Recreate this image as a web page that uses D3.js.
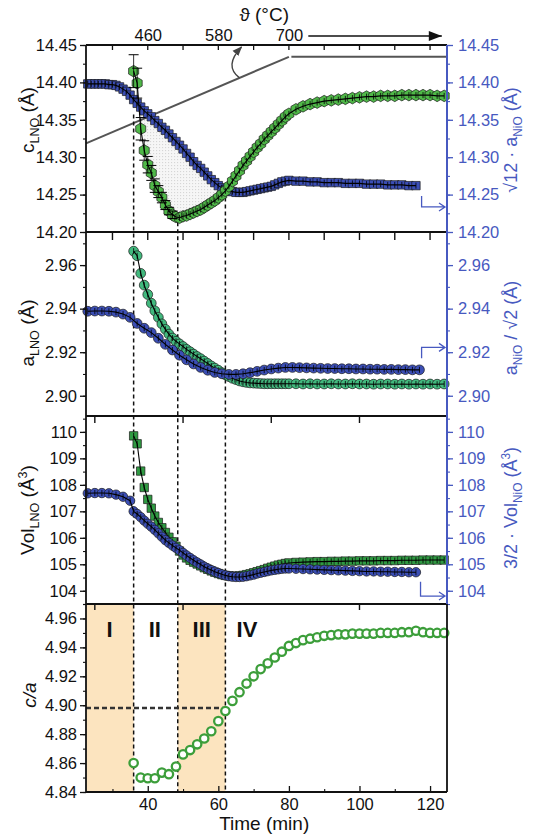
<!DOCTYPE html>
<html><head><meta charset="utf-8">
<script src="https://cdn.jsdelivr.net/npm/d3@7"></script>
<style>
body{margin:0;background:#fff;}
svg{display:block;font-family:"Liberation Sans",Arial,sans-serif;}
</style></head><body>
<svg id="c" width="558" height="835"></svg>
<script>
// ---------------- DATA ----------------
const timeBlue1 = [23,24,25,26,27,28,29,30,31,32,33,34,35,36,37,38,39,40,41,42,43,44,45,46,47,48,49,50,51,52,53,54,55,56,57,58,59,60,61,62,63,64,65,66,67,68,69,70,71,72,73,74,75,76,77,78,79,80,
  82,84,86,88,90,92,94,96,98,100,102,104,106,108,110,112,114,116];
const cNiO = [14.398,14.398,14.398,14.398,14.398,14.398,14.397,
  14.397,14.396,14.394,14.391,14.388,14.383,
  14.377,14.372,14.367,14.362,14.358,14.354,14.349,14.345,14.340,14.336,
  14.331,14.326,14.321,14.316,14.311,14.305,14.300,14.294,14.289,14.285,
  14.280,14.275,14.270,14.266,14.262,14.259,14.257,14.255,14.254,14.253,
  14.253,14.253,14.254,14.255,14.256,14.257,14.258,14.259,14.260,14.261,
  14.263,14.265,14.267,14.268,14.269,
  14.268,14.268,14.267,14.267,14.266,14.266,14.266,14.265,14.265,14.265,14.264,14.264,14.264,14.263,14.263,14.263,14.262,14.262];

const timeGreen = [36,37,38,39,40,41,42,43,44,45,46,47,48,49,50,51,52,53,54,55,56,57,58,59,60,61,62,63,64,65,66,67,68,69,70,71,72,73,74,75,76,77,78,79,80,
  82,84,86,88,90,92,94,96,98,100,102,104,106,108,110,112,114,116,118,120,122,124];
const cLNO = [14.415,14.399,14.338,14.309,14.290,14.279,14.262,14.254,14.246,14.236,
  14.228,14.223,14.220,14.219,14.221,14.222,14.224,14.226,14.228,14.230,
  14.233,14.236,14.239,14.242,14.246,14.250,14.255,14.261,14.268,14.275,
  14.282,14.289,14.295,14.301,14.307,14.313,14.318,14.324,14.329,14.334,
  14.339,14.344,14.349,14.354,14.358,
  14.364,14.368,14.371,14.373,14.375,14.376,14.377,14.378,14.379,14.380,14.381,14.381,14.382,14.382,14.382,14.383,14.383,14.383,14.383,14.383,14.382,14.382];
const cLNOerr = [0.022,0.020,0.015,0.013,0.011,0.010,0.009,0.008,0.007,0.006,
  0.005,0.005,0.004,0.004,0.004,0.003,0.003,0.003,0.003,0.003,
  0.003,0.003,0.003,0.003,0.003,0.003,0.003,0.003,0.003,0.003,
  0.003,0.003,0.003,0.003,0.003,0.003,0.003,0.003,0.003,0.003,
  0.003,0.003,0.003,0.003,0.003,
  0.003,0.003,0.003,0.003,0.003,0.003,0.003,0.003,0.003,0.003,0.003,0.003,0.003,0.003,0.003,0.003,0.003,0.003,0.003,0.003,0.003,0.003];

const timeBlue2 = [23,25,27,29,31,33,35,37,39,41,43,45,47,49,51,53,55,57,59,61,63,65,67,69,71,73,75,77,79,81,83,85,87,89,91,93,95,97,99,101,103,105,107,109,111,113,115,117];
const aNiO = [2.9388,2.9389,2.9389,2.9388,2.9384,2.9375,2.9360,2.9332,2.9310,2.9290,
  2.9264,2.9236,2.9210,2.9186,2.9165,2.9146,2.9130,2.9117,2.9107,2.9101,
  2.9098,2.9098,2.9101,2.9106,2.9112,2.9118,2.9123,2.9127,2.9130,2.9130,
  2.9129,2.9128,2.9127,2.9126,2.9125,2.9125,2.9124,2.9124,2.9123,2.9123,
  2.9122,2.9122,2.9121,2.9121,2.9120,2.9120,2.9119,2.9119];
const aLNO = [2.9664,2.9643,2.9562,2.9508,2.9465,2.9425,2.9390,2.9360,2.9330,2.9305,
  2.9283,2.9265,2.9250,2.9238,2.9226,2.9213,2.9202,2.9191,2.9180,2.9170,
  2.9159,2.9148,2.9137,2.9127,2.9117,2.9106,2.9096,2.9088,2.9080,2.9074,
  2.9068,2.9064,2.9061,2.9059,2.9058,2.9057,2.9056,2.9055,2.9055,2.9055,
  2.9055,2.9055,2.9055,2.9055,2.9055,
  2.9055,2.9054,2.9055,2.9054,2.9054,2.9055,2.9054,2.9054,2.9055,2.9054,2.9054,2.9053,2.9054,2.9054,2.9053,2.9054,2.9053,2.9054,2.9053,2.9054,2.9053,2.9054];

const timeBlue3 = [23,25,27,29,31,33,35,36,37,38,39,40,41,42,43,44,45,46,47,48,49,50,51,52,53,54,55,56,57,58,59,60,61,62,63,64,65,66,67,68,69,70,71,72,73,74,75,76,77,78,79,80,
  82,84,86,88,90,92,94,96,98,100,102,104,106,108,110,112,114,116];
const volNiO = [107.68,107.69,107.69,107.68,107.63,107.55,107.40,
  107.00,106.90,106.78,106.65,106.53,106.42,106.30,106.17,106.04,105.91,
  105.81,105.71,105.62,105.53,105.43,105.33,105.24,105.15,105.07,104.99,
  104.91,104.84,104.78,104.72,104.67,104.62,104.58,104.55,104.53,104.52,
  104.52,104.53,104.55,104.58,104.61,104.65,104.68,104.71,104.74,104.77,
  104.79,104.81,104.83,104.84,104.84,
  104.83,104.82,104.81,104.80,104.79,104.78,104.77,104.76,104.75,104.74,104.73,104.73,104.72,104.72,104.71,104.71,104.70,104.70];
const volLNO = [109.85,109.55,108.52,107.90,107.45,107.12,106.82,106.58,106.38,106.20,
  106.02,105.85,105.68,105.50,105.35,105.24,105.15,105.08,105.01,104.94,
  104.87,104.81,104.75,104.70,104.65,104.61,104.58,104.56,104.55,104.55,
  104.56,104.58,104.61,104.64,104.68,104.72,104.76,104.80,104.85,104.89,
  104.93,104.97,105.00,105.03,105.05,
  105.07,105.08,105.09,105.10,105.10,105.11,105.11,105.12,105.12,105.13,105.13,105.13,105.14,105.14,105.14,105.15,105.15,105.15,105.16,105.16,105.16,105.16];

const timeRatio = [36,38,40,42,44,46,48,50,52,54,56,58,60,62,64,66,68,70,72,74,76,78,80,82,84,86,88,90,92,94,96,98,100,102,104,106,108,110,112,114,116,118,120,122,124];
const ratioCA = [4.860,4.850,4.8495,4.8495,4.8534,4.8523,4.8576,4.866,4.869,4.873,
  4.877,4.882,4.889,4.896,4.903,4.909,4.915,4.920,4.925,4.929,
  4.933,4.937,4.941,4.943,4.945,4.946,4.947,4.948,4.9485,4.949,
  4.949,4.9495,4.9495,4.9495,4.9495,4.950,4.950,4.950,4.9505,4.9505,
  4.9515,4.9505,4.950,4.950,4.950];

const rampTime = [22.5, 80.0], rampTemp = [355, 700];
const holdTime = [80.7, 124.8], holdTemp = [700, 700];
const stageBounds = [36, 48.5, 62];
const stageStartC = [14.357, 14.213, 14.246];
const stageNames = ["I", "II", "III", "IV"];
const stageNameTime = [29.2, 42.0, 55.3, 68.1];
const shadedStages = [[22.5, 36], [48.5, 62]];
const caThreshold = 4.898;

const timeTicks = [40, 60, 80, 100, 120];
const tempTicks = [460, 580, 700];
const cTicks = [14.20, 14.25, 14.30, 14.35, 14.40, 14.45];
const aTicks = [2.90, 2.92, 2.94, 2.96];
const volTicks = [104, 105, 106, 107, 108, 109, 110];
const caTicks = [4.84, 4.86, 4.88, 4.90, 4.92, 4.94, 4.96];

// ---------------- LAYOUT ----------------
const L = 86, R = 447;
const P = [[45, 232], [232, 416], [416, 604], [604, 792]];
const BLUE = "#3b4eb5", AXB = "#4759c0", G1 = "#4fb848", G2 = "#42b97e", G3 = "#2f9a42", GC = "#3c9e3a";
const svg = d3.select("#c");

const x = d3.scaleLinear().domain([22.5, 124.8]).range([L, R]);
const xT = d3.scaleLinear().domain(x.domain().map(t => 460 + 6 * (t - 40))).range([L, R]);
const y1 = d3.scaleLinear().domain([14.20, 14.45]).range([P[0][1], P[0][0]]);
const yTemp = d3.scaleLinear().domain([2, 747]).range([P[0][1], P[0][0]]);
const y2 = d3.scaleLinear().domain([2.8907, 2.9752]).range([P[1][1], P[1][0]]);
const y3 = d3.scaleLinear().domain([103.5, 110.6]).range([P[2][1], P[2][0]]);
const y4 = d3.scaleLinear().domain([4.84, 4.97]).range([P[3][1], P[3][0]]);

const defs = svg.append("defs");
const pat = defs.append("pattern").attr("id","dots").attr("width",3).attr("height",3).attr("patternUnits","userSpaceOnUse");
pat.append("rect").attr("width",3).attr("height",3).attr("fill","#f6f6f6");
pat.append("rect").attr("width",1.1).attr("height",1.1).attr("fill","#d6d6d6");
defs.append("marker").attr("id","ah").attr("viewBox","0 0 10 10").attr("refX",9).attr("refY",5)
  .attr("markerWidth",7).attr("markerHeight",7).attr("orient","auto")
  .append("path").attr("d","M0,1L10,5L0,9Z").attr("fill","#444");

// shaded stages (panel 4)
svg.append("g").selectAll("rect").data(shadedStages).join("rect")
  .attr("x", d => x(d[0])).attr("width", d => x(d[1]) - x(d[0]))
  .attr("y", P[3][0]).attr("height", P[3][1] - P[3][0]).attr("fill", "#fce4bf");

// dotted area between curves in panel 1
const areaPts = timeGreen.map((t, i) => ({t, g: cLNO[i], b: cNiO[timeBlue1.indexOf(t)]}))
  .filter(d => d.t >= 37 && d.t <= 62);
svg.append("path").datum(areaPts).attr("fill", "url(#dots)")
  .attr("d", d3.area().x(d => x(d.t)).y0(d => y1(Math.min(d.g, d.b))).y1(d => y1(d.b)).curve(d3.curveMonotoneX));

// temperature program line
const tl = d3.line().x(d => x(d[0])).y(d => yTemp(d[1]));
svg.append("path").attr("d", tl(rampTime.map((t, i) => [t, rampTemp[i]]))).attr("stroke", "#555").attr("stroke-width", 2).attr("fill", "none");
svg.append("path").attr("d", tl(holdTime.map((t, i) => [t, holdTemp[i]]))).attr("stroke", "#555").attr("stroke-width", 2).attr("fill", "none");
// curved arrow from the temperature line to the top axis
{
  const t0 = 66, T0 = 460 + 6 * (t0 - 40);
  const sx = x(t0), sy = yTemp(T0);
  svg.append("path").attr("d", `M${sx},${sy} Q${sx - 16},${sy - 12} ${sx + 2},${P[0][0] + 2}`)
    .attr("fill", "none").attr("stroke", "#444").attr("stroke-width", 1.4).attr("marker-end", "url(#ah)");
}

// stage boundary dashed lines
svg.append("g").selectAll("line").data(stageBounds).join("line")
  .attr("x1", d => x(d)).attr("x2", d => x(d))
  .attr("y1", (d, i) => y1(stageStartC[i])).attr("y2", P[3][1])
  .attr("stroke", "#111").attr("stroke-width", 1.5).attr("stroke-dasharray", "4,3");
// horizontal c/a threshold
svg.append("line").attr("x1", x(x.domain()[0])).attr("x2", x(stageBounds[2]))
  .attr("y1", y4(caThreshold)).attr("y2", y4(caThreshold))
  .attr("stroke", "#333").attr("stroke-width", 2.5).attr("stroke-dasharray", "5,3");

// ---------------- SERIES ----------------
function hexPath(r) {
  const p = d3.range(6).map(i => { const a = Math.PI / 3 * i - Math.PI / 2; return [r * Math.cos(a), r * Math.sin(a)]; });
  return "M" + p.map(d => d.map(v => v.toFixed(2)).join(",")).join("L") + "Z";
}
function series(times, vals, y, o) {
  const g = svg.append("g");
  const pts = times.map((t, i) => ({t, v: vals[i], e: o.err ? o.err[i] : 0}));
  const m = g.selectAll(null).data(pts).join(o.shape === "circle" ? "circle" : "path");
  if (o.shape === "circle") m.attr("cx", d => x(d.t)).attr("cy", d => y(d.v)).attr("r", o.r);
  else {
    const dpath = o.shape === "hex" ? hexPath(o.r) : d3.symbol(d3.symbolSquare, o.r * o.r * 4)();
    m.attr("d", dpath).attr("transform", d => `translate(${x(d.t)},${y(d.v)})`);
  }
  m.attr("fill", o.fill).attr("stroke", o.stroke || "#1b1b1b").attr("stroke-width", o.sw || 0.7);
  if (o.line) {
    g.append("path").datum(pts).attr("fill", "none").attr("stroke", "#000").attr("stroke-width", 1.1)
      .attr("d", d3.line().x(d => x(d.t)).y(d => y(d.v)));
    g.selectAll(null).data(pts).join("line")
      .attr("x1", d => x(d.t)).attr("x2", d => x(d.t))
      .attr("y1", d => Math.min(y(d.v + d.e), y(d.v) - 3)).attr("y2", d => Math.max(y(d.v - d.e), y(d.v) + 3))
      .attr("stroke", "#000").attr("stroke-width", 0.8);
    g.selectAll(null).data(pts.filter(d => d.e > 0.004)).join("path")
      .attr("d", d => `M${x(d.t) - 5},${y(d.v + d.e)}h10M${x(d.t) - 5},${y(d.v - d.e)}h10`)
      .attr("stroke", "#000").attr("stroke-width", 1);
  }
}
// panel 1 (green on top)
series(timeBlue1, cNiO, y1, {shape: "square", r: 4.2, fill: BLUE, line: true});
series(timeGreen, cLNO, y1, {shape: "hex", r: 5.8, fill: G1, line: true, err: cLNOerr});
// panel 2 (blue on top)
series(timeGreen, aLNO, y2, {shape: "circle", r: 4.9, fill: G2, line: true});
series(timeBlue2, aNiO, y2, {shape: "circle", r: 4.9, fill: BLUE, line: true});
// panel 3
series(timeGreen, volLNO, y3, {shape: "square", r: 4.2, fill: G3, line: true});
series(timeBlue3, volNiO, y3, {shape: "circle", r: 4.7, fill: BLUE, line: true});
// panel 4 open circles
svg.append("g").selectAll("circle").data(timeRatio.map((t, i) => ({t, v: ratioCA[i]}))).join("circle")
  .attr("cx", d => x(d.t)).attr("cy", d => y4(d.v)).attr("r", 4.2)
  .attr("fill", "#fff").attr("stroke", GC).attr("stroke-width", 2.3);

// ---------------- AXES ----------------
const fs = 16.5;
function yAxes(y, ticks, minorStep, fmt, i, right) {
  const dom = y.domain();
  const minors = d3.range(Math.ceil(dom[0] / minorStep - 1e-6) * minorStep, dom[1] + 1e-9, minorStep);
  const gl = svg.append("g").attr("transform", `translate(${L},0)`)
    .call(d3.axisLeft(y).tickValues(ticks).tickFormat(fmt).tickSize(6).tickPadding(3));
  gl.select(".domain").remove();
  gl.selectAll("text").attr("font-size", fs).attr("fill", "#111").attr("font-family", "Liberation Sans, Arial");
  gl.selectAll("line").attr("stroke", "#111").attr("stroke-width", 1.3);
  const gm = svg.append("g").attr("transform", `translate(${L},0)`)
    .call(d3.axisLeft(y).tickValues(minors).tickFormat("").tickSize(3));
  gm.select(".domain").remove(); gm.selectAll("line").attr("stroke", "#111").attr("stroke-width", 1.1);
  if (right) {
    const gr = svg.append("g").attr("transform", `translate(${R},0)`)
      .call(d3.axisRight(y).tickValues(ticks).tickFormat(fmt).tickSize(6).tickPadding(5));
    gr.select(".domain").remove();
    gr.selectAll("text").attr("font-size", fs).attr("fill", AXB).attr("font-family", "Liberation Sans, Arial");
    gr.selectAll("line").attr("stroke", AXB).attr("stroke-width", 1.3);
    const grm = svg.append("g").attr("transform", `translate(${R},0)`)
      .call(d3.axisRight(y).tickValues(minors).tickFormat("").tickSize(3));
    grm.select(".domain").remove(); grm.selectAll("line").attr("stroke", AXB).attr("stroke-width", 1.1);
  }
}
yAxes(y1, cTicks, 0.025, d3.format(".2f"), 0, true);
yAxes(y2, aTicks, 0.01, d3.format(".2f"), 1, true);
yAxes(y3, volTicks, 0.5, d3.format("d"), 2, true);
yAxes(y4, caTicks, 0.01, d3.format(".2f"), 3, false);

// frames
const fr = svg.append("g").attr("stroke-width", 1.8).attr("fill", "none");
fr.append("line").attr("x1", L).attr("x2", L).attr("y1", P[0][0]).attr("y2", P[3][1]).attr("stroke", "#111");
P.forEach(p => fr.append("line").attr("x1", L).attr("x2", R).attr("y1", p[0]).attr("y2", p[0]).attr("stroke", "#111"));
fr.append("line").attr("x1", L).attr("x2", R).attr("y1", P[3][1]).attr("y2", P[3][1]).attr("stroke", "#111");
fr.append("line").attr("x1", R).attr("x2", R).attr("y1", P[0][0]).attr("y2", P[2][1]).attr("stroke", AXB).attr("stroke-width", 2);
fr.append("line").attr("x1", R).attr("x2", R).attr("y1", P[3][0]).attr("y2", P[3][1]).attr("stroke", "#111");

// top temperature axis
const gt = svg.append("g").attr("transform", `translate(0,${P[0][0]})`)
  .call(d3.axisTop(xT).tickValues(tempTicks).tickSize(0).tickPadding(4));
gt.select(".domain").remove();
gt.selectAll("text").attr("font-size", fs).attr("fill", "#111");
svg.append("g").selectAll("line").data(d3.range(400, 969, 60)).join("line")
  .attr("x1", d => xT(d)).attr("x2", d => xT(d)).attr("y1", P[0][0]).attr("y2", P[0][0] + 5)
  .attr("stroke", "#111").attr("stroke-width", 1.3);
svg.append("text").attr("x", x(73)).attr("y", 21).attr("text-anchor", "middle").attr("font-size", 19).attr("fill", "#111")
  .text("\u03D1 (\u00B0C)");
svg.append("line").attr("x1", xT(733)).attr("x2", xT(960)).attr("y1", 36).attr("y2", 36)
  .attr("stroke", "#111").attr("stroke-width", 1.6);
svg.append("path").attr("d", `M${xT(960)},36 l-13,-5 v10 z`).attr("fill", "#111");

// inner boundary ticks
function bTicks(vals, yy, len) {
  svg.append("g").selectAll("line").data(vals).join("line")
    .attr("x1", d => x(d)).attr("x2", d => x(d)).attr("y1", yy).attr("y2", yy + len)
    .attr("stroke", "#111").attr("stroke-width", 1.4);
}
bTicks(d3.range(30, 121, 10), P[1][0], 8);
bTicks([25, 50, 75, 100], P[2][0], 7);
bTicks([25, 50, 100], P[3][0], 6);

// bottom time axis
const gb = svg.append("g").attr("transform", `translate(0,${P[3][1]})`)
  .call(d3.axisBottom(x).tickValues(timeTicks).tickSize(-6).tickPadding(6));
gb.select(".domain").remove();
gb.selectAll("text").attr("font-size", fs).attr("fill", "#111");
gb.selectAll("line").attr("stroke", "#111").attr("stroke-width", 1.3);
const gbm = svg.append("g").attr("transform", `translate(0,${P[3][1]})`)
  .call(d3.axisBottom(x).tickValues(d3.range(30, 121, 20)).tickFormat("").tickSize(-3));
gbm.select(".domain").remove(); gbm.selectAll("line").attr("stroke", "#111").attr("stroke-width", 1.1);
svg.append("text").attr("x", x(73)).attr("y", 830).attr("text-anchor", "middle").attr("font-size", 19).attr("fill", "#111").text("Time (min)");

// stage names
svg.append("g").selectAll("text").data(stageNames).join("text")
  .attr("x", (d, i) => x(stageNameTime[i])).attr("y", 637).attr("text-anchor", "middle")
  .attr("font-size", 22).attr("font-weight", "bold").attr("fill", "#111").text(d => d);

// axis titles
function vlabel(cx, cy, parts, color, size) {
  const t = svg.append("text").attr("transform", `translate(${cx},${cy}) rotate(-90)`)
    .attr("text-anchor", "middle").attr("font-size", size).attr("fill", color);
  parts.forEach(p => {
    const s = t.append("tspan").text(p[0]);
    if (p[1] === "sub") s.attr("font-size", size * 0.66).attr("dy", 4.5);
    if (p[1] === "sup") s.attr("font-size", size * 0.66).attr("dy", -7);
    if (p[1] === "back") s.attr("dy", -4.5);
    if (p[1] === "backup") s.attr("dy", 7);
    if (p[1] === "it") s.attr("font-style", "italic");
  });
}
vlabel(34, 120, [["c"], ["LNO", "sub"], [" (Å)", "back"]], "#111", 19);
vlabel(34, 333, [["a"], ["LNO", "sub"], [" (Å)", "back"]], "#111", 19);
vlabel(34, 510, [["Vol"], ["LNO", "sub"], [" (Å", "back"], ["3", "sup"], [")", "backup"]], "#111", 19);
vlabel(36, 695, [["c/a", "it"]], "#111", 19);
vlabel(517, 140, [["\u221A12 · a"], ["NiO", "sub"], [" (Å)", "back"]], AXB, 18);
vlabel(517, 328, [["a"], ["NiO", "sub"], [" / \u221A2 (Å)", "back"]], AXB, 18);
vlabel(517, 508, [["3/2 · Vol"], ["NiO", "sub"], [" (Å", "back"], ["3", "sup"], [")", "backup"]], AXB, 18);

// blue "belongs to right axis" arrows
function bentArrow(xs, ya, yb) {
  svg.append("path").attr("d", `M${xs},${ya}V${yb}H${R - 2}M${R - 8},${yb - 4}L${R - 2},${yb}L${R - 8},${yb + 4}`)
    .attr("fill", "none").attr("stroke", AXB).attr("stroke-width", 1.3);
}
bentArrow(x(117.6), y1(14.248), y1(14.2335));
bentArrow(x(117.6), y2(2.9172), y2(2.9222));
bentArrow(x(117.3), y3(104.34), y3(103.80));
</script>
</body></html>
